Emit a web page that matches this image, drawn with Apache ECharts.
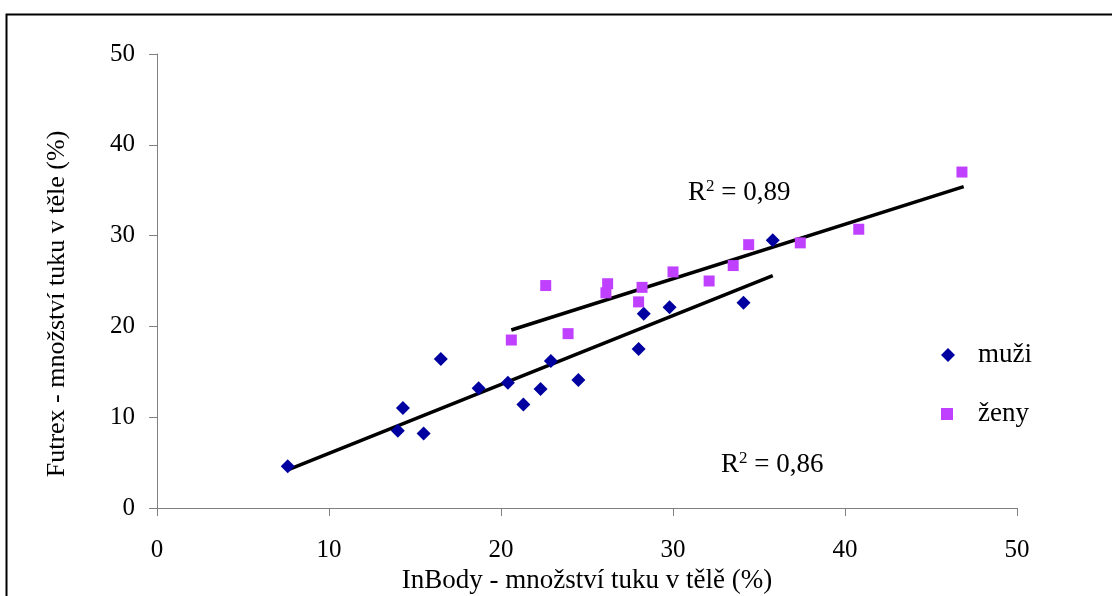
<!DOCTYPE html>
<html>
<head>
<meta charset="utf-8">
<script src="https://cdn.jsdelivr.net/npm/echarts@6/dist/echarts.min.js"></script>
<style>
  html, body { margin: 0; padding: 0; background: #fff; }
  #chart { width: 1112px; height: 596px; }
</style>
</head>
<body>
<div id="chart"></div>
<script>
// muži (InBody %, Futrex %)
var muziX = [7.6, 14.0, 14.3, 15.5, 16.5, 18.7, 20.4, 21.3, 22.3, 22.9, 24.5, 28.0, 28.3, 29.8, 34.1, 35.8];
var muziY = [4.6, 8.5, 11.0, 8.2, 16.4, 13.2, 13.8, 11.4, 13.1, 16.2, 14.1, 17.5, 21.4, 22.1, 22.6, 29.5];
// ženy
var zenyX = [20.6, 22.6, 23.9, 26.1, 26.2, 28.0, 28.2, 30.0, 32.1, 33.5, 34.4, 37.4, 40.8, 46.8];
var zenyY = [18.5, 24.5, 19.2, 23.7, 24.7, 22.7, 24.3, 26.0, 25.0, 26.7, 29.0, 29.2, 30.7, 37.0];
// trend lines (end points)
var trendMuziX = [7.6, 35.8];
var trendMuziY = [4.2, 25.6];
var trendZenyX = [20.6, 46.9];
var trendZenyY = [19.6, 35.4];
var axisTicks = [0, 10, 20, 30, 40, 50];

function pairs(xs, ys) {
  return xs.map(function (x, i) { return [x, ys[i]]; });
}

var serif = 'Liberation Serif';
var chart = echarts.init(document.getElementById('chart'));

var rTextRich = {
  r: { fontFamily: serif, fontSize: 27, verticalAlign: 'bottom', lineHeight: 28 },
  s: { fontFamily: serif, fontSize: 17, verticalAlign: 'top', lineHeight: 28 }
};

var option = {
  backgroundColor: '#fff',
  animation: false,
  grid: { left: 157, right: 95, top: 54, bottom: 88, outerBoundsMode: 'none' },
  xAxis: {
    type: 'value',
    min: axisTicks[0],
    max: axisTicks[axisTicks.length - 1],
    interval: 10,
    name: 'InBody - množství tuku v tělě (%)',
    nameLocation: 'middle',
    nameGap: 57,
    nameTextStyle: { fontFamily: serif, fontSize: 27, color: '#000' },
    axisLine: { lineStyle: { color: '#808080', width: 1 } },
    axisTick: { show: true, length: 8, lineStyle: { color: '#808080' } },
    axisLabel: { fontFamily: serif, fontSize: 25, color: '#000', margin: 30 },
    splitLine: { show: false }
  },
  yAxis: {
    type: 'value',
    min: axisTicks[0],
    max: axisTicks[axisTicks.length - 1],
    interval: 10,
    axisLine: { show: true, lineStyle: { color: '#808080', width: 1 } },
    axisTick: { show: true, length: 8, lineStyle: { color: '#808080' } },
    axisLabel: { fontFamily: serif, fontSize: 25, color: '#000', margin: 22 },
    splitLine: { show: false }
  },
  legend: [
    {
      left: 941,
      top: 341,
      padding: 0,
      itemWidth: 14,
      itemHeight: 14,
      textStyle: { fontFamily: serif, fontSize: 27, lineHeight: 28, color: '#000', padding: [0, 0, 0, 18] },
      data: ['muži']
    },
    {
      left: 941,
      top: 400,
      padding: 0,
      itemWidth: 12,
      itemHeight: 12,
      textStyle: { fontFamily: serif, fontSize: 27, lineHeight: 28, color: '#000', padding: [0, 0, 0, 20] },
      data: ['ženy']
    }
  ],
  graphic: [
    {
      type: 'rect',
      left: 4, top: 12,
      shape: { width: 1130, height: 600 },
      style: { fill: 'none', stroke: '#000', lineWidth: 2 },
      silent: true
    },
    {
      type: 'text',
      rotation: Math.PI / 2,
      x: 57, y: 304,
      style: {
        text: 'Futrex - množství tuku v těle (%)',
        font: '26px "Liberation Serif"',
        fill: '#000',
        align: 'center',
        verticalAlign: 'middle'
      }
    },
    {
      type: 'text',
      x: 688, y: 192,
      style: { text: '{r|R}{s|2}{r| = 0,89}', fill: '#000', verticalAlign: 'middle', rich: rTextRich }
    },
    {
      type: 'text',
      x: 721, y: 464,
      style: { text: '{r|R}{s|2}{r| = 0,86}', fill: '#000', verticalAlign: 'middle', rich: rTextRich }
    }
  ],
  series: [
    {
      name: 'trend muži',
      type: 'line',
      data: pairs(trendMuziX, trendMuziY),
      symbol: 'none',
      lineStyle: { color: '#000', width: 3.5 },
      z: 3
    },
    {
      name: 'trend ženy',
      type: 'line',
      data: pairs(trendZenyX, trendZenyY),
      symbol: 'none',
      lineStyle: { color: '#000', width: 3.5 },
      z: 3
    },
    {
      name: 'muži',
      type: 'scatter',
      data: pairs(muziX, muziY),
      symbol: 'diamond',
      symbolSize: [14, 14],
      itemStyle: { color: '#0000a0', opacity: 1 },
      z: 4
    },
    {
      name: 'ženy',
      type: 'scatter',
      data: pairs(zenyX, zenyY),
      symbol: 'rect',
      symbolSize: 11,
      itemStyle: { color: '#c040ff', opacity: 1 },
      z: 4
    }
  ]
};

chart.setOption(option);
</script>
</body>
</html>
